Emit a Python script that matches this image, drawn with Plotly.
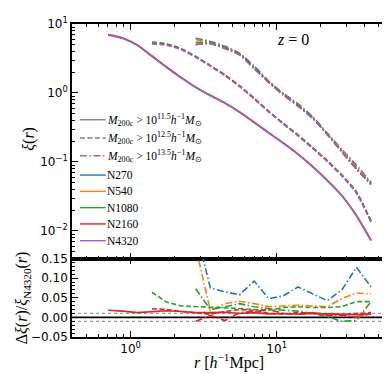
import plotly.graph_objects as go

# ---------------- data ----------------
r = [0.702, 0.883, 1.112, 1.400, 1.762, 2.219, 2.793, 3.516, 4.427, 5.573,
     7.016, 8.833, 11.12, 14.00, 17.62, 22.19, 27.93, 35.16, 44.27]

# reference (N4320) correlation functions for the three mass cuts
xi_m115 = [6.89, 6.17, 4.90, 3.39, 2.34, 1.66, 1.20, 0.912, 0.708, 0.525,
           0.372, 0.263, 0.186, 0.129, 0.0851, 0.0537, 0.0324, 0.0166, 0.00724]
xi_m125 = [5.15, 4.95, 4.25, 3.30, 2.45, 1.78, 1.24, 0.820, 0.530, 0.355,
           0.240, 0.158, 0.102, 0.0631, 0.0355, 0.0135]
xi_m135 = [5.07, 5.19, 4.45, 3.55, 2.24, 1.41, 0.933, 0.646, 0.427, 0.251,
           0.141, 0.0794, 0.0468]

# relative differences with respect to N4320
d_N2160_m115 = [0.018, 0.016, 0.012, 0.014, 0.017, 0.015, 0.012, 0.012, 0.013, 0.010,
                0.012, 0.009, 0.010, 0.008, 0.010, 0.009, 0.008, 0.007, 0.008]
d_N1080_m125 = [0.064, 0.039, 0.029, 0.0275, 0.025, 0.025, 0.0225, 0.020, 0.018, 0.025,
                0.027, 0.025, 0.025, 0.0275, 0.040, 0.040]
d_N2160_m125 = [0.022, 0.020, 0.015, 0.012, 0.008, 0.015, 0.020, 0.018, 0.010, 0.008,
                0.012, 0.011, 0.009, 0.006, 0.010, 0.012]
d_N270_m135 = [0.225, 0.075, 0.065, 0.0575, 0.0925, 0.0475, 0.055, 0.0775, 0.060, 0.0425,
               0.070, 0.1275, 0.0775]
d_N540_m135 = [0.178, 0.018, 0.035, 0.041, 0.035, 0.0275, 0.029, 0.031, 0.029, 0.0275,
               0.0475, 0.062, 0.060]
d_N1080_m135 = [0.073, 0.020, 0.027, 0.035, 0.027, 0.0225, 0.018, 0.016, 0.010, 0.002,
                -0.010, -0.008, 0.040]
d_N2160_m135 = [-0.010, 0.005, -0.008, 0.012, 0.015, 0.020, 0.010, 0.008, 0.012, 0.005,
                0.006, 0.000, 0.010]

sims = ["N270", "N540", "N1080", "N2160", "N4320"]
x_ticks = [1, 10]
x_ticktext = ["10<sup>0</sup>", "10<sup>1</sup>"]
y_ticks = [0.01, 0.1, 1, 10]
y_ticktext = ["10<sup>−2</sup>", "10<sup>−1</sup>", "10<sup>0</sup>", "10<sup>1</sup>"]
y2_ticks = [-0.05, 0.0, 0.05, 0.10, 0.15]
y2_ticktext = ["−0.05", "0.00", "0.05", "0.10", "0.15"]

# ---------------- styling ----------------
colors = {"N270": "#1f77b4", "N540": "#ff7f0e", "N1080": "#2ca02c",
          "N2160": "#d62728", "N4320": "#9467bd"}
dashes = ["solid", "5px,2.5px", "7px,2.5px,1.5px,2.5px"]

mass_bins = [
    (xi_m115, 0, {"N2160": d_N2160_m115}),
    (xi_m125, 3, {"N1080": d_N1080_m125, "N2160": d_N2160_m125}),
    (xi_m135, 6, {"N270": d_N270_m135, "N540": d_N540_m135,
                  "N1080": d_N1080_m135, "N2160": d_N2160_m135}),
]

fig = go.Figure()

for sim in sims:
    for k, (ref, start, res) in enumerate(mass_bins):
        rr = r[start:start + len(ref)]
        if sim == "N4320":
            xi = ref
        elif sim in res:
            xi = [a * (1 + b) for a, b in zip(ref, res[sim])]
        else:
            continue
        fig.add_trace(go.Scatter(x=rr, y=xi, mode="lines", xaxis="x", yaxis="y",
                                 line=dict(color=colors[sim], width=1.7, dash=dashes[k],
                                           shape="spline", smoothing=0.6),
                                 showlegend=False))

for sim in sims[:-1]:
    for k, (ref, start, res) in enumerate(mass_bins):
        if sim not in res:
            continue
        d = res[sim]
        rr = r[start:start + len(d)]
        fig.add_trace(go.Scatter(x=rr, y=d, mode="lines", xaxis="x2", yaxis="y2",
                                 line=dict(color=colors[sim], width=1.6, dash=dashes[k]),
                                 showlegend=False))

# ---------------- geometry helpers ----------------
W, H = 390, 374
ml, mr, mt, mb = 64, 7, 12, 45
pw, ph = W - ml - mr, H - mt - mb
split = (329 - 249.5) / ph


def PX(x):
    return (x - ml) / pw


def PY(y):
    return (H - mb - y) / ph


shapes = []
annotations = []

# reference lines in the residual panel
for val, col, dsh, wd in [(0.01, "#9a9a9a", "dot", 1.3), (-0.01, "#9a9a9a", "dot", 1.3),
                          (0.0, "black", "solid", 1.6)]:
    shapes.append(dict(type="line", xref="x2 domain", yref="y2", x0=0, x1=1, y0=val, y1=val,
                       line=dict(color=col, width=wd, dash=dsh), layer="below"))

# manual legend
serif = "Liberation Serif"
leg_y = [109, 127.5, 145.5, 165, 181.5, 198, 214.5, 231.5]
leg_items = [("#808080", dashes[0], "<i>M</i><sub>200<i>c</i></sub> > 10<sup>11.5</sup><i>h</i><sup>−1</sup><i>M</i><sub>⊙</sub>"),
             ("#808080", dashes[1], "<i>M</i><sub>200<i>c</i></sub> > 10<sup>12.5</sup><i>h</i><sup>−1</sup><i>M</i><sub>⊙</sub>"),
             ("#808080", dashes[2], "<i>M</i><sub>200<i>c</i></sub> > 10<sup>13.5</sup><i>h</i><sup>−1</sup><i>M</i><sub>⊙</sub>")]
leg_items += [(colors[s], "solid", s) for s in sims]
for yy, (col, dsh, txt) in zip(leg_y, leg_items):
    shapes.append(dict(type="line", xref="paper", yref="paper", x0=PX(72), x1=PX(98),
                       y0=PY(yy), y1=PY(yy), line=dict(color=col, width=1.4, dash=dsh)))
    annotations.append(dict(xref="paper", yref="paper", x=PX(97), y=PY(yy), text=txt,
                            showarrow=False, xanchor="left", yanchor="middle",
                            font=dict(family=serif, size=11.5, color="black")))

# titles and labels
annotations.append(dict(xref="paper", yref="paper", x=PX(286), y=PY(28), text="<i>z</i> = 0",
                        showarrow=False, xanchor="center", yanchor="middle",
                        font=dict(family=serif, size=16, color="black")))
annotations.append(dict(xref="paper", yref="paper", x=PX(20), y=PY(128), text="<i>ξ</i>(<i>r</i>)",
                        showarrow=False, textangle=-90, xanchor="center", yanchor="middle",
                        font=dict(family=serif, size=16, color="black")))
annotations.append(dict(xref="paper", yref="paper", x=PX(15), y=PY(289.5),
                        text="Δ<i>ξ</i>(<i>r</i>)/<i>ξ</i><sub>N4320</sub>(<i>r</i>)",
                        showarrow=False, textangle=-90, xanchor="center", yanchor="middle",
                        font=dict(family=serif, size=16, color="black")))
annotations.append(dict(xref="paper", yref="paper", x=PX(222), y=PY(354),
                        text="<i>r</i> [<i>h</i><sup>−1</sup>Mpc]",
                        showarrow=False, xanchor="center", yanchor="middle",
                        font=dict(family=serif, size=16, color="black")))

# ---------------- axes ----------------
tickfont = dict(family="DejaVu Sans", size=12, color="black")
common = dict(showline=True, linecolor="black", linewidth=1.5, mirror="allticks",
              ticks="inside", ticklen=6, tickwidth=1.2, tickcolor="black",
              showgrid=False, zeroline=False, tickfont=tickfont)
x_minor = [m * 10 ** e for e in (-1, 0, 1) for m in range(2, 10)]
y_minor = [m * 10 ** e for e in (-3, -2, -1, 0) for m in range(2, 10)]
minor_style = dict(ticks="inside", ticklen=3, tickwidth=1, tickcolor="black", showgrid=False)

fig.update_layout(
    width=W, height=H,
    margin=dict(l=ml, r=mr, t=mt, b=mb),
    paper_bgcolor="white", plot_bgcolor="white",
    showlegend=False,
    xaxis=dict(common, type="log", range=[-0.401, 1.769], anchor="y", domain=[0, 1],
               tickmode="array", tickvals=x_ticks, showticklabels=False,
               minor=dict(minor_style, tickmode="array", tickvals=x_minor)),
    yaxis=dict(common, type="log", range=[-2.4, 1.0], anchor="x", domain=[split, 1],
               tickmode="array", tickvals=y_ticks, ticktext=y_ticktext,
               minor=dict(minor_style, tickmode="array", tickvals=y_minor)),
    xaxis2=dict(common, type="log", range=[-0.401, 1.769], anchor="y2", domain=[0, 1],
                matches="x", tickmode="array", tickvals=x_ticks, ticktext=x_ticktext,
                minor=dict(minor_style, tickmode="array", tickvals=x_minor)),
    yaxis2=dict(common, range=[-0.05, 0.15], anchor="x2", domain=[0, split],
                tickmode="array", tickvals=y2_ticks, ticktext=y2_ticktext,
                minor=dict(minor_style, dtick=0.01, tick0=0)),
    shapes=shapes,
    annotations=annotations,
)

fig.write_html("out.html")
